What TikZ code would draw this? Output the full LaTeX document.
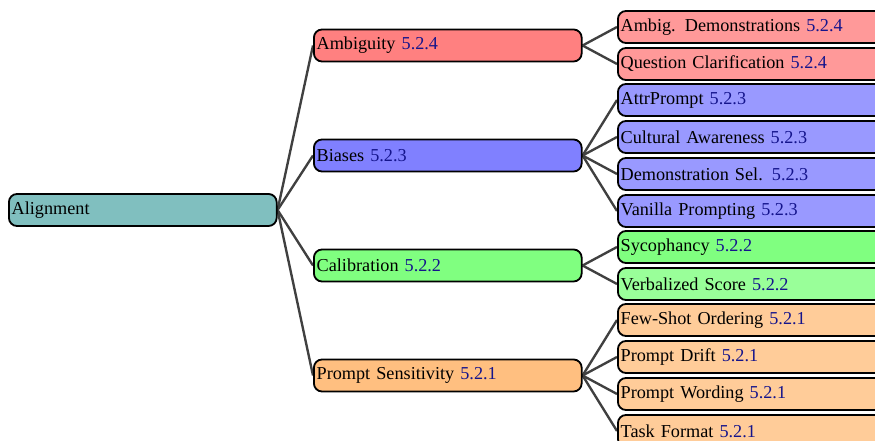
\documentclass[tikz,border=0pt]{standalone}
\usepackage{fontspec}
\setmainfont{Liberation Serif}
\usetikzlibrary{backgrounds}
\definecolor{numblue}{rgb}{0.08,0.08,0.55}
\newcommand{\secnum}[1]{\textcolor{numblue}{#1}}
\tikzset{
  box/.style={draw=black, line width=1pt, rounded corners=4.5pt,
    minimum height=17.6pt, text width=144pt, inner xsep=1.5pt, inner ysep=0pt,
    align=left, anchor=west, font=\fontsize{10}{12}\selectfont},
  edge/.style={draw=black!75, line width=1.3pt},
  rootc/.style={box, fill=teal!50},
  redA/.style={box, fill=red!50}, redB/.style={box, fill=red!40},
  bluA/.style={box, fill=blue!50}, bluB/.style={box, fill=blue!40},
  grnA/.style={box, fill=green!50}, grnB/.style={box, fill=green!40},
  orgA/.style={box, fill=orange!50}, orgB/.style={box, fill=orange!40},
}
\begin{document}
\begin{tikzpicture}[x=0.549pt,y=-0.549pt]
\clip (0,0) rectangle (875,441);
\node[rootc] (root) at (8,210) {Alignment};
\node[redA] (amb) at (313,45.5) {Ambiguity \secnum{5.2.4}};
\node[bluA] (bia) at (313,155.5) {Biases \secnum{5.2.3}};
\node[grnA] (cal) at (313,265.5) {Calibration \secnum{5.2.2}};
\node[orgA] (ps) at (313,375.5) {Prompt Sensitivity \secnum{5.2.1}};
\node[redB] (amb1) at (617,27) {Ambig. Demonstrations \secnum{5.2.4}};
\node[redB] (amb2) at (617,64) {Question Clarification \secnum{5.2.4}};
\node[bluB] (bia1) at (617,100) {AttrPrompt \secnum{5.2.3}};
\node[bluB] (bia2) at (617,137) {Cultural Awareness \secnum{5.2.3}};
\node[bluB] (bia3) at (617,174) {Demonstration Sel. \secnum{5.2.3}};
\node[bluB] (bia4) at (617,211) {Vanilla Prompting \secnum{5.2.3}};
\node[grnA] (cal1) at (617,247) {Sycophancy \secnum{5.2.2}};
\node[grnB] (cal2) at (617,284) {Verbalized Score \secnum{5.2.2}};
\node[orgB] (ps1) at (617,320) {Few-Shot Ordering \secnum{5.2.1}};
\node[orgB] (ps2) at (617,357) {Prompt Drift \secnum{5.2.1}};
\node[orgB] (ps3) at (617,394) {Prompt Wording \secnum{5.2.1}};
\node[orgB] (ps4) at (617,431) {Task Format \secnum{5.2.1}};
\begin{scope}[on background layer]
\foreach \c in {amb,bia,cal,ps} \draw[edge] (root.east) -- (\c.west);
\foreach \c in {amb1,amb2} \draw[edge] (amb.east) -- (\c.west);
\foreach \c in {bia1,bia2,bia3,bia4} \draw[edge] (bia.east) -- (\c.west);
\foreach \c in {cal1,cal2} \draw[edge] (cal.east) -- (\c.west);
\foreach \c in {ps1,ps2,ps3,ps4} \draw[edge] (ps.east) -- (\c.west);
\end{scope}
\end{tikzpicture}
\end{document}
